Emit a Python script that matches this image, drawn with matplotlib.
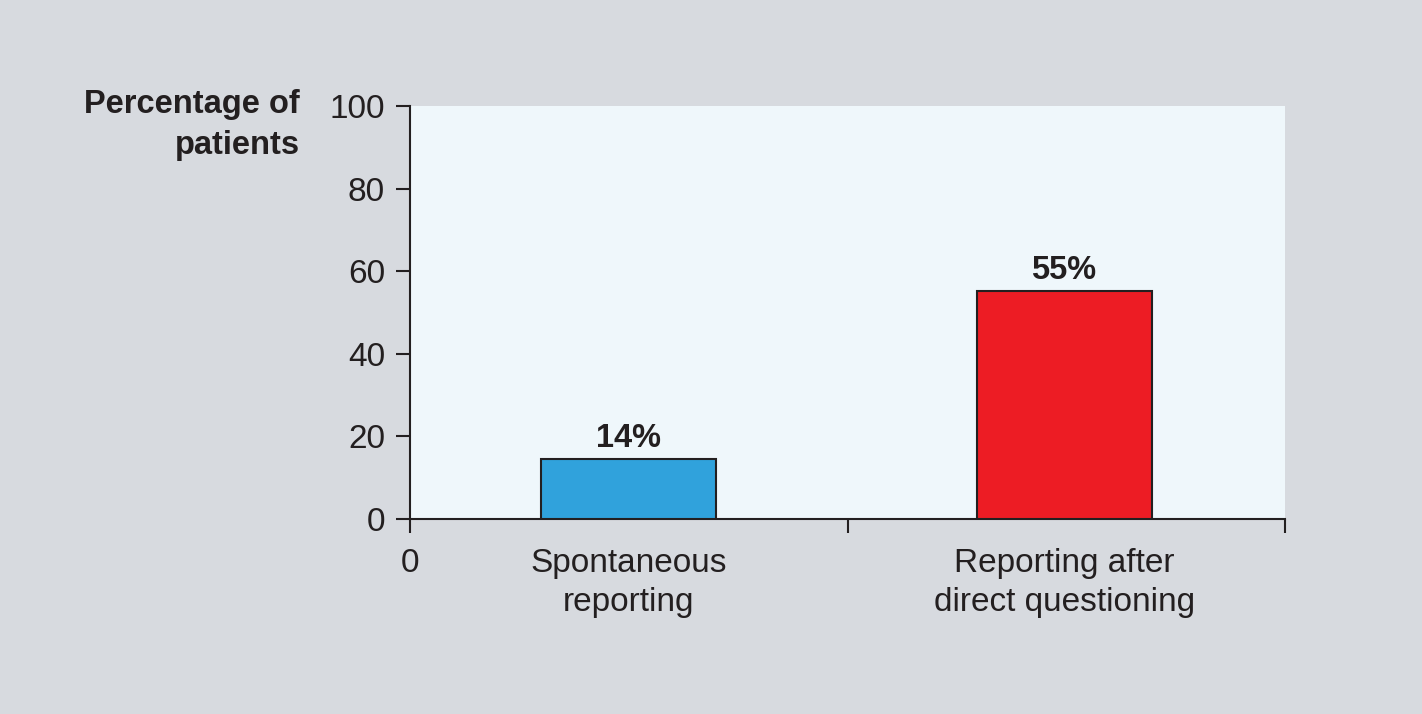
import matplotlib.pyplot as plt

# Data
categories = ['Spontaneous\nreporting', 'Reporting after\ndirect questioning']
values = [14.5, 55.2]
value_labels = ['14%', '55%']
bar_colors = ['#30a2dc', '#ed1c24']
y_ticks = [0, 20, 40, 60, 80, 100]

plt.rcParams['font.family'] = ['Liberation Sans', 'DejaVu Sans']

fig = plt.figure(figsize=(14.22, 7.14), dpi=100)
fig.patch.set_facecolor('#d7dadf')
ax = fig.add_axes([410 / 1422, 1 - 519 / 714, 875 / 1422, 413 / 714])
ax.set_facecolor('#eff7fb')

positions = [0.5, 1.495]
ax.bar(positions, values, width=0.4, color=bar_colors, edgecolor='#231f20', linewidth=1.5, zorder=3)
for x, v, lab in zip(positions, values, value_labels):
    ax.text(x, v + 1.3, lab, ha='center', va='bottom', fontsize=23.5, fontweight='bold', color='#231f20')

ax.set_xlim(0, 2)
ax.set_ylim(0, 100)
ax.set_yticks(y_ticks)
ax.set_xticks([0, 1, 2])
ax.set_xticklabels(['0', '', ''])
ax.set_xticks(positions, minor=True)
ax.set_xticklabels(categories, minor=True, linespacing=1.32)

for side in ['top', 'right']:
    ax.spines[side].set_visible(False)
for side in ['left', 'bottom']:
    ax.spines[side].set_linewidth(1.5)
    ax.spines[side].set_color('#231f20')

ax.tick_params(axis='both', which='major', length=10, width=1.5, color='#231f20',
               labelsize=24, labelcolor='#231f20', pad=8)
ax.tick_params(axis='x', which='major', pad=11)
ax.tick_params(axis='x', which='minor', length=0, labelsize=24, labelcolor='#231f20', pad=21)

fig.text(300 / 1422, 1 - 125 / 714, 'Percentage of\npatients', ha='right', va='center',
         fontsize=23.5, fontweight='bold', color='#231f20', linespacing=1.38)

fig.savefig('out.png', dpi=100, facecolor=fig.get_facecolor())
